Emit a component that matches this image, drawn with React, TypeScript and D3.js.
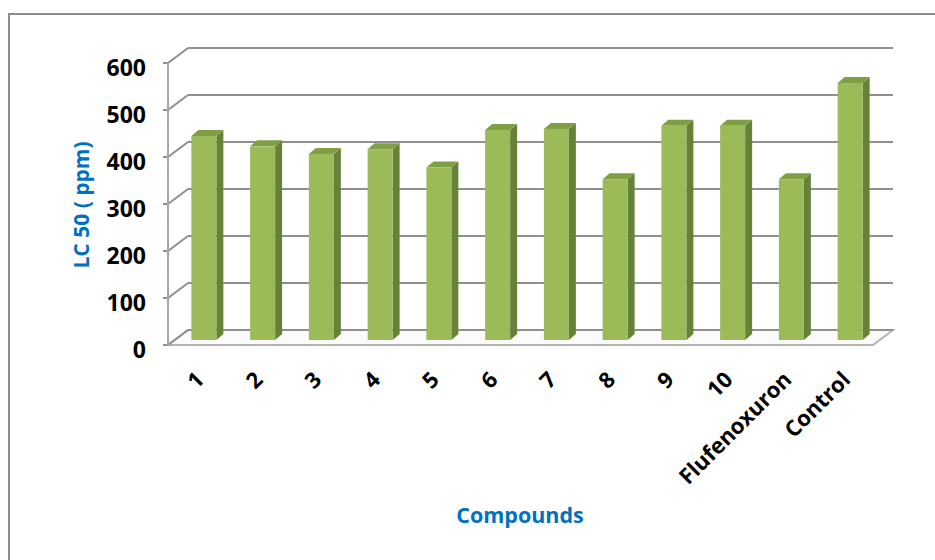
import React from 'react';
import * as d3 from 'd3';

const categories = ['1', '2', '3', '4', '5', '6', '7', '8', '9', '10', 'Flufenoxuron', 'Control'];
const lc50 = [434, 412, 396, 406, 367, 447, 449, 342, 456, 456, 342, 547];
const yTicks = [0, 100, 200, 300, 400, 500, 600];
const yTitle = 'LC 50 ( ppm)';
const xTitle = 'Compounds';

const W = 935;
const H = 560;
const FONT = '"Open Sans", "Liberation Sans", sans-serif';
const BLUE = '#0070C0';
const GRID = '#8f8f8f';

export default function App() {
  // front plane geometry
  const x0 = 168, x1 = 873;
  const yScale = d3.scaleLinear().domain([0, 600]).range([345, 63]);
  const xScale = d3
    .scaleBand<string>()
    .domain(categories)
    .range([x0, x1])
    .paddingInner(0.5745)
    .paddingOuter(0.287);
  const bw = xScale.bandwidth();
  const wall = { dx: 20, dy: -15 };
  const barOff = { dx: 6.5, dy: -5 };
  const depth = { dx: 7, dy: -6 };

  const pts = (a: number[][]) => a.map((p) => p.join(',')).join(' ');

  return (
    <div style={{ position: 'absolute', left: 0, top: 0 }}>
      <svg width={W} height={H} style={{ display: 'block', background: '#fff' }}>
        <rect x={9} y={14} width={940} height={560} fill="#fff" stroke="#8c8c8c" strokeWidth={2} />

        {/* floor */}
        <polygon
          points={pts([
            [x0, yScale(0)],
            [x1, yScale(0)],
            [x1 + wall.dx, yScale(0) + wall.dy],
            [x0 + wall.dx, yScale(0) + wall.dy],
          ])}
          fill="#fbfbfb"
          stroke="#b4b4b4"
          strokeWidth={2}
        />

        {/* back wall gridlines and side wall diagonals */}
        {yTicks.map((t) => (
          <g key={'g' + t}>
            <line
              x1={x0 + wall.dx}
              x2={x1 + wall.dx}
              y1={yScale(t) + wall.dy}
              y2={yScale(t) + wall.dy}
              stroke={GRID}
              strokeWidth={2.2}
            />
            <line
              x1={x0}
              x2={x0 + wall.dx}
              y1={yScale(t)}
              y2={yScale(t) + wall.dy}
              stroke={GRID}
              strokeWidth={2}
            />
            <line x1={x0 - 5} x2={x0} y1={yScale(t)} y2={yScale(t)} stroke={GRID} strokeWidth={2} />
            <text
              x={146}
              y={yScale(t) + 12.7}
              textAnchor="end"
              fontFamily={FONT}
              fontWeight="bold"
              fontSize={23}
              fill="#000"
            >
              {t}
            </text>
          </g>
        ))}
        {/* front vertical axis */}
        <line x1={x0} x2={x0} y1={yScale(600)} y2={yScale(0)} stroke="#a6a6a6" strokeWidth={2} />

        {/* bars */}
        {categories.map((c, i) => {
          const x = (xScale(c) as number) + barOff.dx;
          const top = yScale(lc50[i]) + barOff.dy;
          const bot = yScale(0) + barOff.dy;
          return (
            <g key={c}>
              <polygon
                points={pts([
                  [x + bw, top],
                  [x + bw + depth.dx, top + depth.dy],
                  [x + bw + depth.dx, bot + depth.dy],
                  [x + bw, bot],
                ])}
                fill="#66823a"
              />
              <polygon
                points={pts([
                  [x, top],
                  [x + depth.dx, top + depth.dy],
                  [x + bw + depth.dx, top + depth.dy],
                  [x + bw, top],
                ])}
                fill="#7f9f45"
              />
              <rect x={x} y={top} width={bw} height={bot - top} fill="#9bbb59" />
            </g>
          );
        })}

        {/* x labels */}
        {categories.map((c) => {
          const xc = (xScale(c) as number) + barOff.dx + bw / 2 + 1.5;
          return (
            <text
              key={'l' + c}
              transform={`translate(${xc},381) rotate(-45)`}
              textAnchor="end"
              fontFamily={FONT}
              fontWeight="bold"
              fontSize={22}
              fill="#000"
            >
              {c}
            </text>
          );
        })}

        <text
          transform="translate(89,205) rotate(-90)"
          textAnchor="middle"
          fontFamily={FONT}
          fontWeight="bold"
          fontSize={21}
          fill={BLUE}
        >
          {yTitle}
        </text>
        <text x={520} y={523} textAnchor="middle" fontFamily={FONT} fontWeight="bold" fontSize={21.5} fill={BLUE}>
          {xTitle}
        </text>
      </svg>
    </div>
  );
}
